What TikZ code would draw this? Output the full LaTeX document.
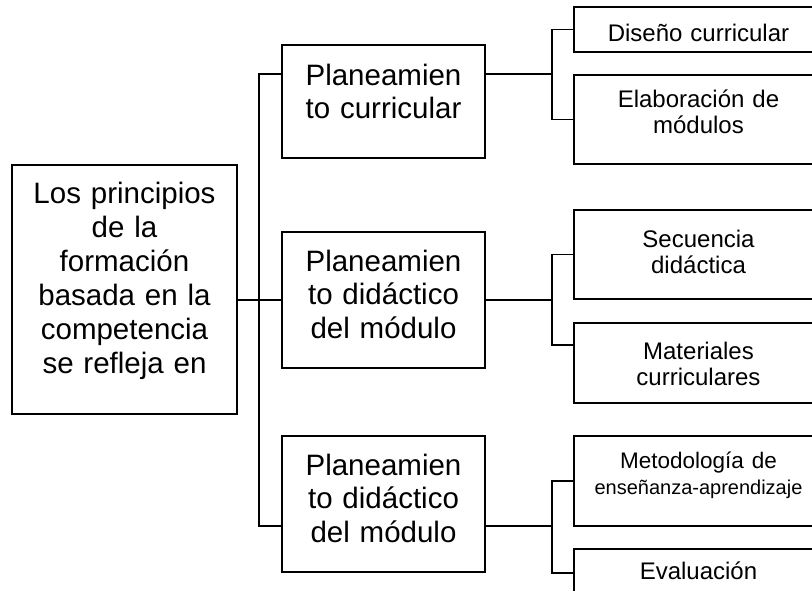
\documentclass[tikz,border=0pt]{standalone}
\usepackage{fontspec}
\setmainfont{Liberation Sans}
\begin{document}
\begin{tikzpicture}[x=1pt,y=-1pt,
  box/.style={draw, line width=1.7pt, rectangle, inner sep=0pt},
  conn/.style={line width=1.3pt},
  txt/.style={anchor=base, inner sep=0pt, align=center},
  bigtxt/.style={txt, font=\fontsize{29.5}{34}\selectfont},
  midtxt/.style={txt, font=\fontsize{29.5}{33.5}\selectfont},
  smalltxt/.style={txt, font=\fontsize{24}{26}\selectfont}]
\useasboundingbox (0,0) rectangle (812,590);
\clip (0,0) rectangle (812,590);
% boxes
\node[box, minimum width=225pt, minimum height=249pt] (L) at (124.5,289.5) {};
\node[box, minimum width=203pt, minimum height=113pt] (M1) at (383.5,101.5) {};
\node[box, minimum width=203pt, minimum height=136pt] (M2) at (383.5,300) {};
\node[box, minimum width=203pt, minimum height=136pt] (M3) at (383.5,504) {};
\node[box, minimum width=249pt, minimum height=45pt] (R1) at (698.5,29.5) {};
\node[box, minimum width=249pt, minimum height=89pt] (R2) at (698.5,119.5) {};
\node[box, minimum width=249pt, minimum height=89pt] (R3) at (698.5,254.5) {};
\node[box, minimum width=249pt, minimum height=80pt] (R4) at (698.5,363) {};
\node[box, minimum width=249pt, minimum height=90pt] (R5) at (698.5,481) {};
\node[box, minimum width=249pt, minimum height=90pt] (R6) at (698.5,594) {};
% texts
\node[bigtxt, text width=220pt] (Lt) at (124.5,203) {Los principios\\de la\\formación\\basada en la\\competencia\\se refleja en};
\node[midtxt, text width=200pt] (M1t) at (383.5,85) {Planeamien\\to curricular};
\node[midtxt, text width=200pt] (M2t) at (383.5,271) {Planeamien\\to didáctico\\del módulo};
\node[midtxt, text width=200pt] (M3t) at (383.5,475) {Planeamien\\to didáctico\\del módulo};
\node[smalltxt, text width=245pt] (R1t) at (698.5,41) {Diseño curricular};
\node[smalltxt, text width=245pt] (R2t) at (698.5,107) {Elaboración de\\módulos};
\node[smalltxt, text width=245pt] (R3t) at (698.5,247) {Secuencia\\didáctica};
\node[smalltxt, text width=245pt] (R4t) at (698.5,359) {Materiales\\curriculares};
\node[smalltxt, text width=245pt] (R5t) at (698.5,468) {{\fontsize{22.5}{26}\selectfont Metodología de}\\{\fontsize{20}{26}\selectfont enseñanza-aprendizaje}};
\node[smalltxt, text width=245pt] (R6t) at (698.5,579) {Evaluación};
% connectors
\coordinate (j1) at (259,74);
\coordinate (j3) at (259,526);
\coordinate (bj1) at (552,74);
\coordinate (bj2) at (552,300);
\coordinate (bj3) at (552,526);
\coordinate (r4in) at (574,345);
\coordinate (r6in) at (574,573);
\draw[conn] (L.east |- M2.west) -- (M2.west);
\draw[conn] (j1 -| M1.west) -- (j1) -- (j3) -- (j3 -| M3.west);
\draw[conn] (M1.east |- bj1) -- (bj1);
\draw[conn] (R1.west) -- (R1.west -| bj1) -- (R2.west -| bj1) -- (R2.west);
\draw[conn] (M2.east) -- (bj2);
\draw[conn] (R3.west) -- (R3.west -| bj2) -- (bj2 |- r4in) -- (r4in);
\draw[conn] (M3.east |- bj3) -- (bj3);
\draw[conn] (R5.west) -- (R5.west -| bj3) -- (bj3 |- r6in) -- (r6in);
\end{tikzpicture}
\end{document}
